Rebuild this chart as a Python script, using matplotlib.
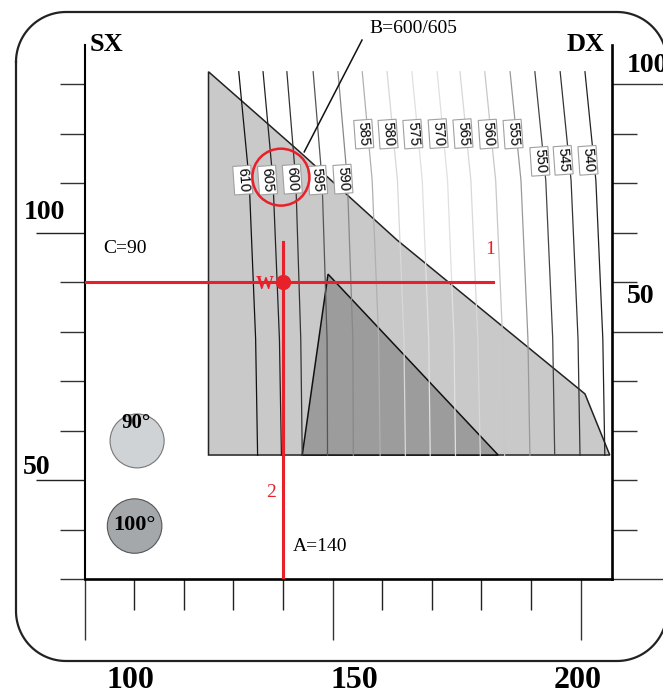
import numpy as np
import matplotlib
matplotlib.use("Agg")
import matplotlib.pyplot as plt
from matplotlib.patches import Polygon, Circle

# iso-lines: level, x at the four heights in line_y, grey level of the line
levels = [610, 605, 600, 595, 590, 585, 580, 575, 570, 565, 560, 555, 550, 545, 540]
line_y = [132.5, 110.5, 78.5, 55.0]
line_x = [
    [131.1, 133.2, 134.5, 134.9],
    [136.0, 138.0, 139.3, 139.7],
    [140.8, 142.6, 143.6, 143.9],
    [146.1, 147.9, 148.9, 149.0],
    [151.1, 153.0, 154.1, 154.2],
    [156.0, 158.0, 159.3, 159.6],
    [161.0, 163.1, 164.4, 164.7],
    [166.0, 168.1, 169.4, 169.7],
    [171.1, 173.2, 174.5, 174.8],
    [175.7, 177.9, 179.3, 179.8],
    [180.7, 182.9, 184.3, 184.7],
    [185.8, 188.0, 189.4, 189.8],
    [190.8, 193.0, 194.4, 194.8],
    [195.9, 198.1, 199.5, 199.9],
    [200.9, 203.1, 204.5, 204.9],
]
line_grey = ["#111111", "#222222", "#333333", "#555555", "#888888", "#b0b0b0",
             "#d8d8d8", "#e0e0e0", "#e0e0e0", "#d8d8d8", "#c8c8c8", "#999999",
             "#444444", "#333333", "#222222"]
label_x = [131.9, 136.9, 141.9, 147.0, 152.1, 156.3, 161.2, 166.2, 171.3,
           176.3, 181.4, 186.4, 191.8, 196.5, 201.5]
label_y = [110.6, 110.6, 110.8, 110.6, 110.8, 119.9, 119.9, 119.9, 120.0,
           120.0, 119.9, 119.9, 114.4, 114.6, 114.6]

# shaded zones
zone_light_x = [125.0, 143.4, 163.0, 200.9, 205.9, 125.0]
zone_light_y = [132.5, 116.3, 98.5, 67.4, 55.05, 55.05]
zone_dark_x = [149.1, 143.9, 183.4]
zone_dark_y = [91.6, 55.05, 55.05]

# working point
A = 140
C = 90
red = "#e8202a"

fig = plt.figure(figsize=(6.63, 6.94), dpi=100)

# rounded outer frame, drawn in a pixel-sized background axes
bg = fig.add_axes([0, 0, 1, 1], zorder=-1)
bg.set_xlim(0, 663)
bg.set_ylim(694, 0)
bg.axis("off")
r = 50
fx0, fx1, fy0, fy1 = 16, 667, 12, 661
corners = [((fx0 + r, fy0 + r), np.pi, 1.5 * np.pi),
           ((fx1 - r, fy0 + r), 1.5 * np.pi, 2 * np.pi),
           ((fx1 - r, fy1 - r), 0, 0.5 * np.pi),
           ((fx0 + r, fy1 - r), 0.5 * np.pi, np.pi)]
fx, fy = [], []
for (cx, cy), t0, t1 in corners:
    t = np.linspace(t0, t1, 30)
    fx.extend(cx + r * np.cos(t))
    fy.extend(cy + r * np.sin(t))
fx.append(fx[0])
fy.append(fy[0])
bg.plot(fx, fy, color="#222222", lw=1.6, clip_on=True)

ax = fig.add_axes([84.5 / 663, 1 - 579 / 694, (612 - 84.5) / 663, (579 - 45) / 694])
ax.patch.set_alpha(0)
ax.set_xlim(100, 206.35)
ax.set_ylim(30, 137.9)

ax.add_patch(Polygon(list(zip(zone_light_x, zone_light_y)), closed=True,
                     fc="#c9c9c9", ec="#222222", lw=1.1, zorder=1))
ax.add_patch(Polygon(list(zip(zone_dark_x, zone_dark_y)), closed=True,
                     fc="#9c9c9c", ec="#111111", lw=1.1, zorder=2))

for xs, g in zip(line_x, line_grey):
    ax.plot(xs, line_y, color=g, lw=0.9, zorder=3)

for lev, lx, ly in zip(levels, label_x, label_y):
    ax.text(lx, ly, str(lev), rotation=-86, rotation_mode="anchor",
            ha="center", va="center", fontsize=10.5, family="Liberation Sans",
            zorder=5,
            bbox=dict(boxstyle="square,pad=0.14", fc="white", ec="#a0a0a0", lw=0.8))

# red guide lines
ax.plot([100, 182.4], [C, C], color=red, lw=2.2, zorder=6)
ax.plot([A, A], [30, 98], color=red, lw=2.2, zorder=6)
ax.plot([A], [C], "o", color=red, ms=10, zorder=7)
ax.add_patch(Circle((139.6, 111.2), 5.75, fill=False, ec=red, lw=1.8, zorder=7))
ax.plot([144.3, 155.95], [116.3, 138.9], color="#111111", lw=1.1, zorder=7, clip_on=False)

serif = "Liberation Serif"
ax.text(166.2, 141.3, "B=600/605", ha="center", va="center", fontsize=14, family=serif)
ax.text(108.2, 96.7, "C=90", ha="center", va="center", fontsize=14, family=serif)
ax.text(147.5, 36.5, "A=140", ha="center", va="center", fontsize=14, family=serif)
ax.text(136.4, 89.6, "W", ha="center", va="center", fontsize=13, family=serif,
        weight="bold", color=red, zorder=8)
ax.text(181.8, 96.6, "1", ha="center", va="center", fontsize=14, family=serif, color=red)
ax.text(137.6, 47.4, "2", ha="center", va="center", fontsize=14, family=serif, color=red)

# legend discs
ax.add_patch(Circle((110.6, 57.9), 5.45, fc="#cfd3d6", ec="#777777", lw=0.8, zorder=4))
ax.add_patch(Circle((110.1, 40.7), 5.5, fc="#a5a8ab", ec="#555555", lw=0.8, zorder=4))
ax.text(110.4, 61.5, "90°", ha="center", va="center", fontsize=15, family=serif,
        weight="bold", zorder=5)
ax.text(110.0, 40.9, "100°", ha="center", va="center", fontsize=16, family=serif,
        weight="bold", zorder=5)

# axes frame and ticks
ax.spines["top"].set_visible(False)
ax.spines["right"].set_visible(False)
ax.spines["left"].set_linewidth(1.5)
ax.spines["bottom"].set_linewidth(1.9)
ax.set_xticks([100, 150, 200])
ax.set_xticks([110, 120, 130, 140, 160, 170, 180, 190], minor=True)
ax.set_yticks([50, 100])
ax.set_yticks([30, 40, 60, 70, 80, 90, 110, 120, 130], minor=True)
ax.tick_params(axis="x", which="major", direction="out", length=44, width=1.0,
               color="#333333", labelbottom=False)
ax.tick_params(axis="x", which="minor", direction="out", length=22, width=1.0,
               color="#222222")
ax.tick_params(axis="y", which="major", direction="out", length=35, width=1.0,
               color="#222222", labelleft=False)
ax.tick_params(axis="y", which="minor", direction="out", length=18, width=1.0,
               color="#333333")

sec = ax.secondary_yaxis("right", functions=(lambda y: y - 30, lambda d: d + 30))
sec.set_yticks([0, 50, 100])
sec.set_yticks([10, 20, 30, 40, 60, 70, 80, 90], minor=True)
sec.spines["right"].set_linewidth(1.9)
sec.tick_params(axis="y", which="major", direction="out", length=38, width=1.0,
                color="#333333", labelright=False)
sec.tick_params(axis="y", which="minor", direction="out", length=18, width=1.0,
                color="#333333")

# scale labels
for v, xx in zip(["100", "150", "200"], [109.2, 154.5, 199.5]):
    ax.text(xx, 9.4, v, ha="center", va="center", fontsize=23, family=serif,
            weight="bold", clip_on=False)
ax.text(92.0, 104.1, "100", ha="center", va="center", fontsize=20, family=serif, weight="bold")
ax.text(90.4, 52.6, "50", ha="center", va="center", fontsize=20, family=serif, weight="bold")
ax.text(209.3, 133.8, "100", ha="left", va="center", fontsize=20, family=serif, weight="bold")
ax.text(209.3, 87.0, "50", ha="left", va="center", fontsize=20, family=serif, weight="bold")
ax.text(104.5, 138.1, "SX", ha="center", va="center", fontsize=19, family=serif, weight="bold")
ax.text(201.1, 138.1, "DX", ha="center", va="center", fontsize=19, family=serif, weight="bold")

fig.savefig("out.png", dpi=100)
